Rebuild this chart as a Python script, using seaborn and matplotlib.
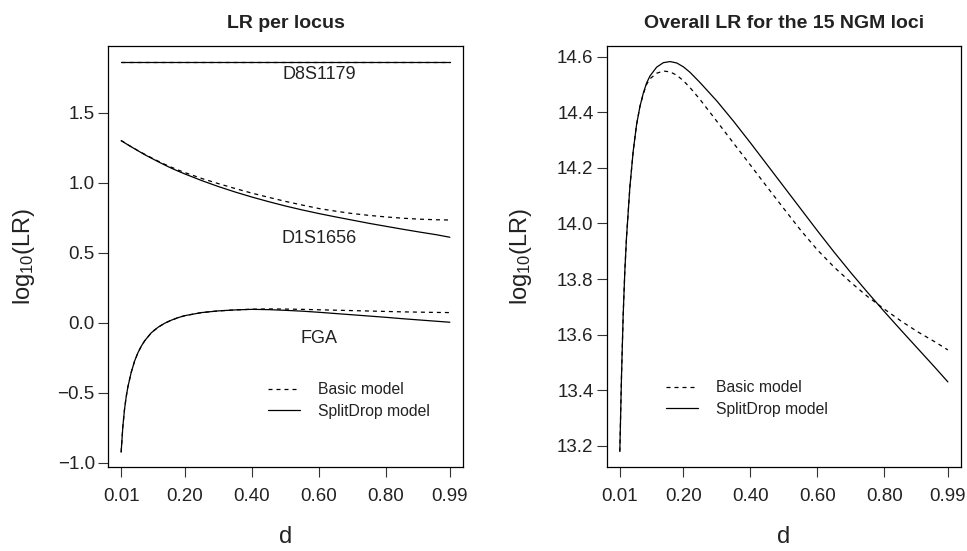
import numpy as np
import pandas as pd
import matplotlib
matplotlib.use("Agg")
import matplotlib.pyplot as plt
from matplotlib.lines import Line2D
import seaborn as sns

# ---------------- data ----------------
d_left = [0.01, 0.015, 0.02, 0.025, 0.03, 0.04, 0.05, 0.06, 0.07, 0.08, 0.10, 0.12,
          0.14, 0.16, 0.18, 0.20, 0.25, 0.30, 0.35, 0.40, 0.45, 0.50, 0.55, 0.60,
          0.65, 0.70, 0.75, 0.80, 0.85, 0.90, 0.95, 0.99]

d8_basic = [1.862] * len(d_left)
d8_split = [1.862] * len(d_left)

d1_basic = [1.300, 1.293, 1.286, 1.278, 1.271, 1.257, 1.243, 1.229, 1.216, 1.203,
            1.178, 1.154, 1.131, 1.110, 1.090, 1.072, 1.030, 0.993, 0.958, 0.925,
            0.895, 0.866, 0.840, 0.815, 0.796, 0.779, 0.766, 0.755, 0.746, 0.739,
            0.735, 0.733]
d1_split = [1.300, 1.293, 1.285, 1.278, 1.270, 1.256, 1.242, 1.228, 1.214, 1.200,
            1.175, 1.150, 1.126, 1.103, 1.082, 1.062, 1.015, 0.972, 0.933, 0.897,
            0.864, 0.833, 0.805, 0.779, 0.755, 0.732, 0.709, 0.688, 0.667, 0.647,
            0.628, 0.610]

fga_basic = [-0.925, -0.745, -0.62, -0.53, -0.46, -0.355, -0.275, -0.215, -0.168, -0.13,
             -0.072, -0.033, -0.004, 0.018, 0.036, 0.050, 0.072, 0.084, 0.091, 0.096,
             0.098, 0.097, 0.095, 0.092, 0.089, 0.086, 0.083, 0.080, 0.077, 0.075,
             0.073, 0.072]
fga_split = [-0.925, -0.745, -0.62, -0.53, -0.46, -0.355, -0.275, -0.215, -0.168, -0.13,
             -0.072, -0.033, -0.004, 0.018, 0.036, 0.050, 0.072, 0.084, 0.091, 0.095,
             0.093, 0.088, 0.082, 0.074, 0.065, 0.056, 0.047, 0.038, 0.028, 0.019,
             0.010, 0.003]

d_right = [0.01, 0.015, 0.02, 0.025, 0.03, 0.04, 0.05, 0.06, 0.07, 0.08, 0.09, 0.10,
           0.12, 0.14, 0.16, 0.18, 0.20, 0.22, 0.25, 0.30, 0.35, 0.40, 0.45, 0.50,
           0.55, 0.60, 0.65, 0.70, 0.75, 0.80, 0.85, 0.90, 0.95, 0.99]

overall_basic = [13.18, 13.45, 13.67, 13.83, 13.95, 14.13, 14.26, 14.355, 14.42, 14.465,
                 14.50, 14.52, 14.54, 14.548, 14.545, 14.533, 14.513, 14.488, 14.445,
                 14.367, 14.288, 14.21, 14.131, 14.053, 13.976, 13.905, 13.843, 13.788,
                 13.737, 13.692, 13.649, 13.61, 13.575, 13.545]
overall_split = [13.18, 13.45, 13.67, 13.83, 13.95, 14.13, 14.26, 14.355, 14.42, 14.468,
                 14.505, 14.53, 14.562, 14.578, 14.582, 14.577, 14.563, 14.543, 14.506,
                 14.44, 14.367, 14.29, 14.211, 14.132, 14.053, 13.974, 13.897, 13.823,
                 13.752, 13.683, 13.616, 13.55, 13.484, 13.43]

xtick_vals = [0.01, 0.20, 0.40, 0.60, 0.80, 0.99]
xtick_labels = ["0.01", "0.20", "0.40", "0.60", "0.80", "0.99"]
left_yticks = [-1.0, -0.5, 0.0, 0.5, 1.0, 1.5]
right_yticks = [13.2, 13.4, 13.6, 13.8, 14.0, 14.2, 14.4, 14.6]
locus_labels = ["D8S1179", "D1S1656", "FGA"]
locus_label_y = [1.776, 0.598, -0.116]
legend_labels = ["Basic model", "SplitDrop model"]
titles = ["LR per locus", "Overall LR for the 15 NGM loci"]

# ---------------- style ----------------
sns.set_theme(style="white")
plt.rcParams["font.family"] = ["Liberation Sans", "DejaVu Sans"]
plt.rcParams["mathtext.fontset"] = "custom"
plt.rcParams["mathtext.rm"] = "Liberation Sans"
plt.rcParams["mathtext.it"] = "Liberation Sans"

TXT = "#222222"
W, H = 967, 551
fig = plt.figure(figsize=(W / 100, H / 100), dpi=100)
ax1 = fig.add_axes([108 / W, (H - 467) / H, 355 / W, 421 / H])
ax2 = fig.add_axes([606.7 / W, (H - 467) / H, 354.3 / W, 421 / H])

LW = 0.9
DASH = (3.2, 3.2)


def draw(ax, x, y, dashed):
    sns.lineplot(x=x, y=y, ax=ax, estimator=None, sort=False,
                 color="black", linewidth=LW)
    ln = ax.get_lines()[-1]
    if dashed:
        ln.set_dashes(DASH)
    return ln


# left panel
for yb, ys in [(d8_basic, d8_split), (d1_basic, d1_split), (fga_basic, fga_split)]:
    draw(ax1, d_left, yb, True)
    draw(ax1, d_left, ys, False)

for lab, yy in zip(locus_labels, locus_label_y):
    ax1.text(0.60, yy, lab, ha="center", va="center", fontsize=13, color=TXT)

# right panel
draw(ax2, d_right, overall_basic, True)
draw(ax2, d_right, overall_split, False)


def fmt(v):
    s = f"{v:.1f}"
    return s.replace("-", "\u2212")


def style_axes(ax, yticks, ylim, title, ylab_x):
    ax.set_xlim(0.01 - 0.98 * 0.04, 0.99 + 0.98 * 0.04)
    ax.set_ylim(*ylim)
    ax.set_xticks(xtick_vals)
    ax.set_xticklabels(xtick_labels)
    ax.set_yticks(yticks)
    ax.set_yticklabels([fmt(v) for v in yticks])
    for s in ax.spines.values():
        s.set_visible(True)
        s.set_color("black")
        s.set_linewidth(0.9)
    ax.tick_params(axis="both", direction="out", length=7, width=0.8, color="#333333",
                   labelsize=13.5, labelcolor=TXT, bottom=True, left=True)
    ax.tick_params(axis="x", pad=8)
    ax.tick_params(axis="y", pad=2.5)
    ax.set_xlabel("d", fontsize=17, color=TXT)
    ax.set_ylabel(r"$\mathregular{log_{10}(LR)}$", fontsize=17, color=TXT)
    ax.xaxis.set_label_coords(0.5, -0.140)
    ax.yaxis.set_label_coords(ylab_x, 0.5)
    ax.grid(False)
    ax.set_title(title, fontsize=14, fontweight="bold", pad=13, color=TXT)


style_axes(ax1, left_yticks, (-1.031, 1.976), titles[0], -0.200)
style_axes(ax2, right_yticks, (13.124, 14.638), titles[1], -0.205)


def legend(ax, loc):
    h = [Line2D([], [], color="black", lw=LW, dashes=DASH),
         Line2D([], [], color="black", lw=LW)]
    lg = ax.legend(h, legend_labels, loc="upper left", bbox_to_anchor=loc, frameon=False,
                   fontsize=11.3, handlelength=2.05, handletextpad=1.15, labelspacing=0.42,
                   borderpad=0, borderaxespad=0)
    for t in lg.get_texts():
        t.set_color(TXT)


legend(ax1, ((268 - 108) / 355, (467 - 382) / 421))
legend(ax2, ((666 - 606.7) / 354.3, (467 - 380) / 421))

fig.savefig("out.png", dpi=100)
